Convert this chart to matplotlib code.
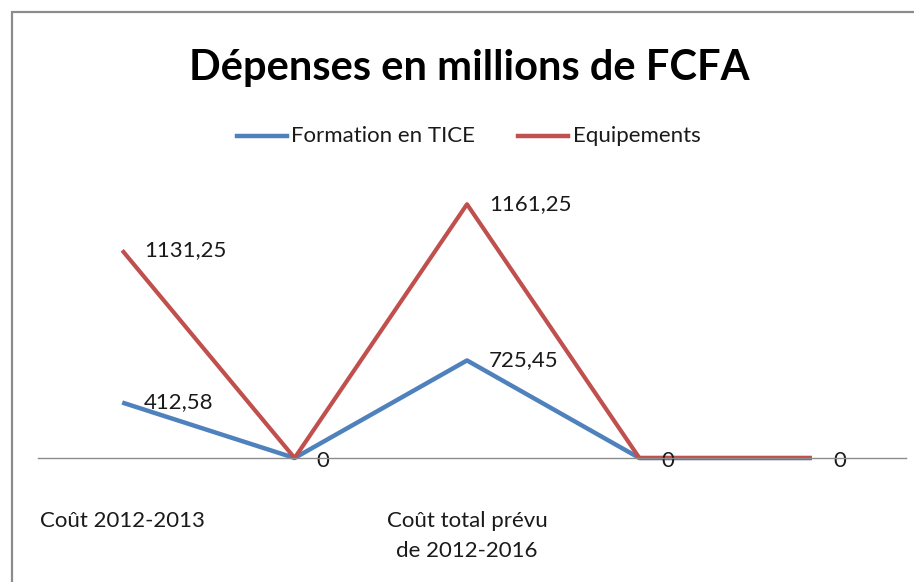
import numpy as np
import matplotlib.pyplot as plt
from matplotlib.patches import Rectangle

# data (stacked line chart)
categories = ["Coût 2012-2013", "", "Coût total prévu\nde 2012-2016", "", ""]
formation = [412.58, 0, 725.45, 0, 0]
equipements = [1131.25, 0, 1161.25, 0, 0]

blue = "#4F81BD"
red = "#C0504D"
W, H = 914, 582

plt.rcParams['font.family'] = ['Lato', 'DejaVu Sans']

fig = plt.figure(figsize=(W / 100, H / 100), dpi=100)

# chart border
fig.patches.append(Rectangle((12 / W, -0.1), 1.2, 1 - 12 / H + 0.1,
                             transform=fig.transFigure, fill=False,
                             edgecolor="#8c8c8c", lw=1.6))

left, right, bot, top = 36, 898, 500, 180
ax = fig.add_axes([left / W, 1 - bot / H, (right - left) / W, (bot - top) / H])

px = 0.1345  # pixels per unit
ax.set_ylim((458 - bot) / px, (458 - top) / px)
ax.set_xlim(-0.5, len(categories) - 0.5)
ax.axis("off")

# baseline runs a bit past the plot area on the right
fig.add_artist(plt.Line2D([38 / W, 906 / W], [1 - 458 / H, 1 - 458 / H], color="#8c8c8c",
                          lw=1, transform=fig.transFigure))

x = np.arange(len(categories))
f = np.array(formation)
e = f + np.array(equipements)

ax.plot(x, f, color=blue, lw=3.2, solid_capstyle="butt")
ax.plot(x, e, color=red, lw=3, solid_capstyle="butt")

fs = 16
lab = dict(fontsize=fs, ha="left", va="center", color="#1a1a1a")
for xi, v in zip(x, formation):
    txt = "{:.2f}".format(v).replace(".", ",") if v else "0"
    ax.annotate(txt, (xi, v), xytext=(22, -3 if v == 0 else 0),
                textcoords="offset pixels", **lab)
for xi, v, s in zip(x, equipements, e):
    if v:
        txt = "{:.2f}".format(v).replace(".", ",")
        ax.annotate(txt, (xi, s), xytext=(22, 0), textcoords="offset pixels", **lab)

# category labels
for xi, c in zip(x, categories):
    if c:
        fig.text((left + (xi + 0.5) * (right - left) / len(categories)) / W, 1 - 511 / H, c,
                 ha="center", va="top", fontsize=fs, color="#1a1a1a", linespacing=1.6)

fig.text(469 / W, 1 - 68 / H, "Dépenses en millions de FCFA", ha="center", va="center",
         fontsize=30, fontweight="bold", color="black")

# legend
ly = 1 - 136 / H
fig.add_artist(plt.Line2D([237 / W, 287 / W], [ly, ly], color=blue, lw=3.2, transform=fig.transFigure))
fig.text(291 / W, ly, "Formation en TICE", ha="left", va="center", fontsize=fs, color="#1a1a1a")
fig.add_artist(plt.Line2D([518 / W, 568 / W], [ly, ly], color=red, lw=3.2, transform=fig.transFigure))
fig.text(573 / W, ly, "Equipements", ha="left", va="center", fontsize=fs, color="#1a1a1a")

fig.savefig("out.png", dpi=100)
